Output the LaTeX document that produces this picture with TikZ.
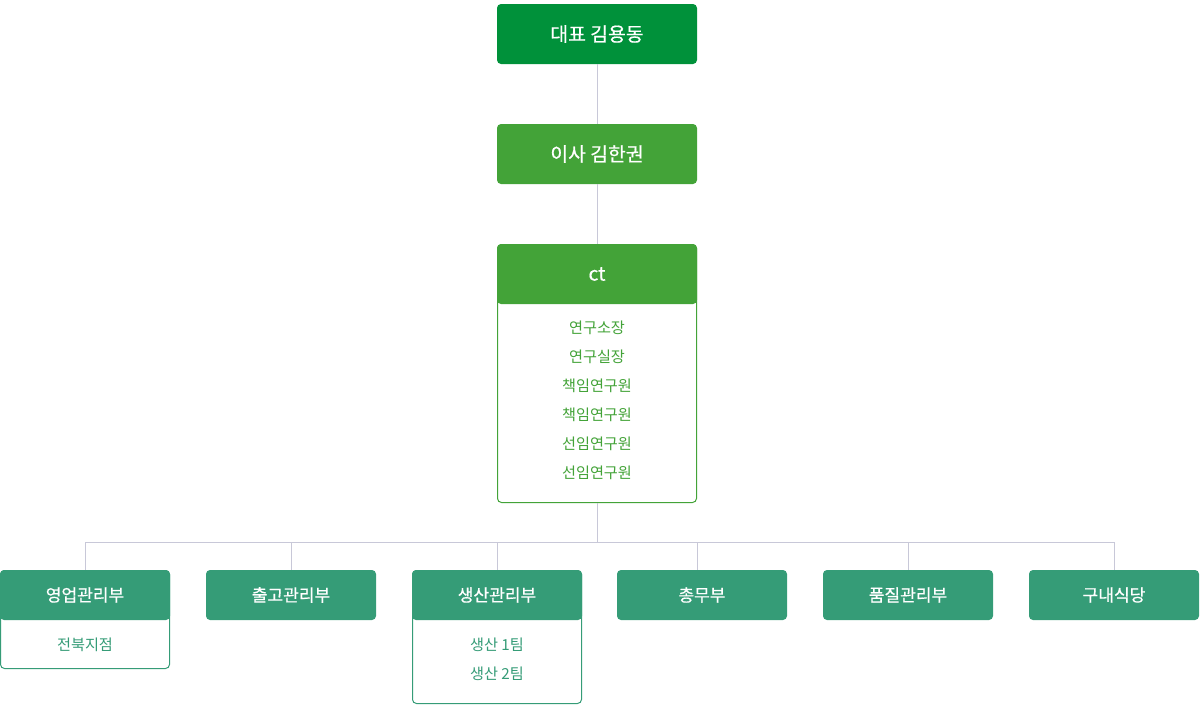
\documentclass[tikz,border=0pt]{standalone}
\usepackage{fontspec}
\setmainfont{Noto Sans CJK KR}
\newfontfamily\headfont{Noto Sans CJK KR}[FakeBold=0.6]
\usepackage{tikz}

\definecolor{topgreen}{RGB}{0,145,58}
\definecolor{midgreen}{RGB}{67,163,56}
\definecolor{deptgreen}{RGB}{53,156,119}
\definecolor{linegray}{RGB}{200,200,216}

\begin{document}
\begin{tikzpicture}[x=0.75pt,y=-0.75pt,
  head/.style={fill=topgreen,text=white,rounded corners=3pt,inner sep=0pt,
    minimum width=150pt,minimum height=45pt,font=\headfont\fontsize{14.5}{16}\selectfont},
  boss/.style={head,fill=midgreen},
  dept/.style={head,fill=deptgreen,minimum width=127.5pt,minimum height=37.5pt,
    font=\headfont\fontsize{12.8}{14}\selectfont},
  bodybox/.style={draw=#1,fill=white,rounded corners=3pt,inner sep=0pt,line width=0.75pt},
  list/.style={text=#1,align=center,inner sep=0pt,font=\fontsize{11.4}{21.75}\selectfont},
  link/.style={draw=linegray,line width=0.75pt}]
\useasboundingbox (0,0) rectangle (1200,714);

% top of the chart
\node[head] (ceo) at (597,34) {대표 김용동};
\node[boss] (vp) at (597,154) {이사 김한권};
\node[bodybox=midgreen,minimum width=149.25pt,minimum height=193.5pt] (ctbody) at (597,373.5) {};
\node[boss] (ct) at (597,274) {ct};
\node[list=midgreen] (ctlist) at (597,400.5) {연구소장\\연구실장\\책임연구원\\책임연구원\\선임연구원\\선임연구원};

\draw[link] (ceo) -- (vp);
\draw[link] (vp) -- (ct);

% departments
\node[bodybox=deptgreen,minimum width=126.75pt,minimum height=73.5pt] (salesbody) at (85,619.5) {};
\node[bodybox=deptgreen,minimum width=126.75pt,minimum height=99.75pt] (prodbody) at (497,637) {};
\node[dept] (sales) at (85,595) {영업관리부};
\node[dept] (ship) at (291,595) {출고관리부};
\node[dept] (prod) at (497,595) {생산관리부};
\node[dept] (admin) at (702,595) {총무부};
\node[dept] (qual) at (908,595) {품질관리부};
\node[dept] (cant) at (1114,595) {구내식당};
\node[list=deptgreen] (saleslist) at (85,645) {전북지점};
\node[list=deptgreen] (prodlist) at (497,659.5) {생산 1팀\\생산 2팀};

\coordinate (bus) at (597,542);
\coordinate (admintop) at ([xshift=-3.75pt]admin.north);
\draw[link] (ctbody.south) -- (bus);
\draw[link] (bus -| sales.north) -- (bus -| cant.north);
\foreach \d in {sales,ship,prod,qual,cant}
  \draw[link] (bus -| \d.north) -- (\d.north);
\draw[link] (bus -| admintop) -- (admintop);
\end{tikzpicture}
\end{document}
